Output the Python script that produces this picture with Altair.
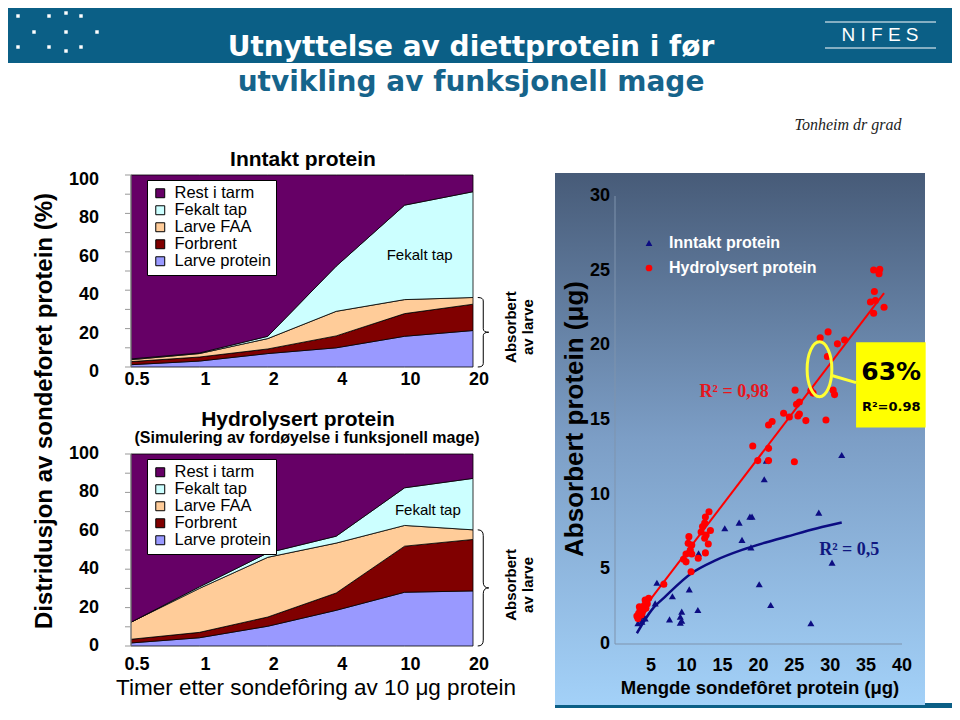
import altair as alt
import pandas as pd

W, H = 944, 700
FONT = "Liberation Sans, Arial, sans-serif"
TITLE_FONT = "DejaVu Sans, Liberation Sans"
SERIF = "Liberation Serif, Times New Roman, serif"
TEAL = "#0b5f86"

# ---------------- data ----------------
time_labels = ["0.5", "1", "2", "4", "10", "20"]
stack_series = ["Larve protein", "Forbrent", "Larve FAA", "Fekalt tap", "Rest i tarm"]  # bottom -> top
legend_order = ["Rest i tarm", "Fekalt tap", "Larve FAA", "Forbrent", "Larve protein"]
area_colors = ["#660066", "#ccffff", "#ffcc99", "#800000", "#9999ff"]
area_y_ticks = [0, 20, 40, 60, 80, 100]
area_y_minor = [0, 10, 20, 30, 40, 50, 60, 70, 80, 90, 100]

# Inntakt protein (% of fed protein per compartment)
inntakt_larve_protein = [1.2, 3.1, 7.0, 10.0, 16.0, 19.0]
inntakt_forbrent = [1.6, 2.1, 2.4, 6.2, 11.8, 13.7]
inntakt_larve_faa = [1.0, 1.8, 5.4, 12.8, 7.3, 3.5]
inntakt_fekalt_tap = [0.4, 0.3, 1.2, 23.5, 49.2, 55.1]
inntakt_rest_i_tarm = [95.8, 92.7, 84.0, 47.5, 15.7, 8.7]

# Hydrolysert protein
hydro_larve_protein = [1.6, 4.3, 10.3, 18.6, 28.0, 28.7]
hydro_forbrent = [1.9, 2.8, 4.8, 9.0, 24.0, 26.8]
hydro_larve_faa = [8.9, 22.9, 31.1, 26.0, 10.8, 5.0]
hydro_fekalt_tap = [0.0, 0.8, 2.3, 3.6, 19.6, 26.8]
hydro_rest_i_tarm = [87.6, 69.2, 51.5, 42.8, 17.6, 12.7]

absorbed_top = [36.2, 60.5]  # top of "Larve FAA" at 20 h (inntakt, hydrolysert)

# Scatter: Inntakt protein (triangles)
inntakt_x = [19.1, 18.8, 17.3, 15.3, 17.7, 18.95, 11.65, 20.1, 5.84, 6.7, 10.35, 8.0, 5.6,
             11.55, 9.3, 9.1, 9.3, 7.6, 9.1, 3.97, 3.5, 3.2, 4.2, 3.75, 31.6, 20.8, 21.1,
             28.4, 30.25, 21.7, 27.3]
inntakt_y = [8.53, 8.53, 8.13, 7.75, 6.97, 6.47, 6.07, 4.0, 4.1, 4.06, 3.66, 3.2, 2.72,
             2.28, 2.17, 1.83, 1.56, 1.65, 1.43, 1.83, 1.65, 1.39, 1.72, 1.49, 12.66, 11.03, 12.28,
             8.8, 5.45, 2.61, 1.39]
# Scatter: Hydrolysert protein (circles)
hydro_x = [4.7, 4.4, 4.1, 3.75, 3.5, 3.3, 3.05, 3.97, 3.65, 4.2, 3.2, 4.5, 3.8, 4.3, 3.4,
           6.8, 9.55, 9.9, 9.9, 10.7, 10.5, 10.3, 10.2, 10.7, 10.6, 11.6, 12.6, 12.0, 12.2,
           12.5, 12.6, 13.1, 13.3, 12.7, 12.5, 13.0,
           19.2, 19.9, 21.4, 21.4, 21.4, 21.9, 25.0, 23.5, 24.3, 25.5, 25.7, 26.6, 29.4,
           25.1, 25.7, 25.3, 27.3, 27.6, 30.4, 30.6, 29.6, 29.7, 28.6, 31.0, 32.0,
           36.05, 36.9, 36.8, 36.15, 35.6, 36.3, 36.05, 37.5]
hydro_y = [3.06, 2.83, 2.6, 2.45, 2.28, 2.05, 1.88, 2.28, 1.94, 2.95, 1.7, 2.7, 2.1, 2.4, 2.5,
           4.0, 5.67, 5.5, 6.03, 6.03, 6.3, 7.19, 6.74, 6.63, 4.84, 5.74, 6.1, 7.5, 7.86,
           8.1, 8.5, 8.86, 7.6, 7.3, 7.08, 6.7,
           13.26, 12.28, 12.28, 13.1, 14.67, 14.9, 12.2, 15.45, 15.2, 15.27, 15.4, 14.96, 15.0,
           17.0, 16.2, 16.06, 16.97, 16.8, 17.0, 16.7, 19.25, 20.9, 20.5, 20.1, 20.36,
           25.05, 25.1, 24.8, 23.6, 22.9, 23.0, 22.15, 22.55]
# trend lines as drawn on the slide
red_line_x = [2.9, 37.5]
red_line_y = [1.7, 23.5]
blue_curve_x = [3.05, 5.15, 7.0, 10.7, 14.0, 17.7, 21.0, 24.0, 28.2, 31.6]
blue_curve_y = [0.72, 2.3, 3.17, 4.75, 5.6, 6.3, 6.8, 7.2, 7.75, 8.13]

scatter_groups = ["Inntakt protein", "Hydrolysert protein"]
scatter_x_ticks = [5, 10, 15, 20, 25, 30, 35, 40]
scatter_y_ticks = [0, 5, 10, 15, 20, 25, 30]

one = pd.DataFrame({"k": [0]})


def stack_df(cols):
    rows = []
    for o, (name, vals) in enumerate(zip(stack_series, cols)):
        for i, v in enumerate(vals):
            rows.append({"t": i, "s": name, "v": v, "o": o})
    return pd.DataFrame(rows)


inntakt_df = stack_df([inntakt_larve_protein, inntakt_forbrent, inntakt_larve_faa,
                       inntakt_fekalt_tap, inntakt_rest_i_tarm])
hydro_df = stack_df([hydro_larve_protein, hydro_forbrent, hydro_larve_faa,
                     hydro_fekalt_tap, hydro_rest_i_tarm])


def brace_path(w):
    return f"M{-w},-1Q0,-1,0,-0.9L0,-0.1Q0,0,{w},0Q0,0,0,0.1L0,0.9Q0,1,{-w},1"


def text_at(txt, x, y, **kw):
    kw.setdefault("align", "center")
    kw.setdefault("baseline", "middle")
    return alt.Chart(pd.DataFrame({"txt": [txt]})).mark_text(**kw) \
        .encode(x=alt.value(x), y=alt.value(y), text="txt:N")


def area_panel(df, y0, y1, legend_y, x_label_y, fekalt_xy, absorbed, absorb_text_y, y_label_dy):
    xs = alt.Scale(domain=[0, 5], range=[123, 465], nice=False, zero=False)
    ys = alt.Scale(domain=[0, 100], range=[y0, y1], nice=False)
    X = lambda f: alt.X(f, scale=xs, axis=None)
    Y = lambda f: alt.Y(f, scale=ys, axis=None)

    area = alt.Chart(df).mark_area(stroke="black", strokeWidth=0.8, opacity=1).encode(
        x=X("t:Q"),
        y=alt.Y("v:Q", stack="zero", scale=ys, axis=None),
        color=alt.Color("s:N", scale=alt.Scale(domain=legend_order, range=area_colors),
                        legend=alt.Legend(orient="none", legendX=139, legendY=legend_y, title=None,
                                          fillColor="white", strokeColor="black", padding=5,
                                          labelFont=FONT, labelFontSize=16.5, labelColor="black",
                                          symbolType="square", symbolSize=80,
                                          symbolStrokeColor="black", symbolStrokeWidth=1,
                                          rowPadding=-2, labelOffset=6)),
        order=alt.Order("o:Q"),
    )
    # y axis: line, ticks every 10 %, labels every 20 %
    y_line = alt.Chart(one).mark_rule(color="#999999", strokeWidth=1).encode(
        x=alt.value(123), y=alt.datum(0, scale=ys, axis=None), y2=alt.datum(100))
    y_tick = alt.Chart(pd.DataFrame({"v": area_y_minor})).mark_rule(color="#999999", strokeWidth=1).encode(
        x=alt.value(117), x2=alt.value(123), y=Y("v:Q"))
    y_lab = alt.Chart(pd.DataFrame({"v": area_y_ticks})).mark_text(
        font=FONT, fontSize=18, fontWeight="bold", color="black", align="right", baseline="middle",
        dy=y_label_dy).encode(x=alt.value(91), y=Y("v:Q"), text="v:N")
    x_lab = alt.Chart(pd.DataFrame({"t": list(range(len(time_labels))), "lab": time_labels})).mark_text(
        font=FONT, fontSize=18, fontWeight="bold", color="black", align="center", baseline="middle",
        dx=6).encode(x=X("t:Q"), y=alt.value(x_label_y), text="lab:N")

    fek = alt.Chart(pd.DataFrame({"x": [fekalt_xy[0]], "y": [fekalt_xy[1]], "txt": ["Fekalt tap"]})) \
        .mark_text(font=FONT, fontSize=15, color="black").encode(x=X("x:Q"), y=Y("y:Q"), text="txt:N")
    absorb = alt.Chart(pd.DataFrame({"x": [5.55], "y": [absorb_text_y], "txt": ["Absorbert\nav larve"]})) \
        .mark_text(font=FONT, fontSize=15, fontWeight="bold", color="black", angle=270,
                   lineBreak="\n", lineHeight=17, align="center", baseline="middle").encode(
        x=X("x:Q"), y=Y("y:Q"), text="txt:N")
    hpx = absorbed * (y0 - y1) / 100.0
    w = 5.5 / (hpx / 2)
    brace = alt.Chart(pd.DataFrame({"x": [5.15], "y": [absorbed / 2]})).mark_point(
        shape=brace_path(round(w, 3)), size=hpx * hpx, filled=False, color="black",
        strokeWidth=1, opacity=1).encode(x=X("x:Q"), y=Y("y:Q"))
    return alt.layer(area, y_line, y_tick, y_lab, x_lab, fek, absorb, brace)


top_panel = area_panel(inntakt_df, 359, 167, 172, 372, (4.22, 58.3), absorbed_top[0], 20.8, 5)
bottom_panel = area_panel(hydro_df, 638, 446, 451, 657, (4.34, 70.8), absorbed_top[1], 31.8, 0)

# ---------------- scatter ----------------
sx = alt.Scale(domain=[0, 40], range=[607, 894], nice=False, zero=False)
sy = alt.Scale(domain=[0, 30], range=[636, 188], nice=False)
SX = lambda f: alt.X(f, scale=sx, axis=None)
SY = lambda f: alt.Y(f, scale=sy, axis=None)

scatter_df = pd.DataFrame(
    {"x": inntakt_x + hydro_x, "y": inntakt_y + hydro_y,
     "g": [scatter_groups[0]] * len(inntakt_x) + [scatter_groups[1]] * len(hydro_x)})

leg = alt.Legend(orient="none", legendX=633, legendY=227, title=None, labelColor="white",
                 labelFont=FONT, labelFontSize=16, labelFontWeight="bold", symbolSize=45,
                 rowPadding=9, labelOffset=12, padding=0, symbolStrokeWidth=0)

bg = alt.Chart(one).mark_rect(
    color=alt.LinearGradient(gradient="linear", x1=0, x2=0, y1=0, y2=1,
                             stops=[alt.GradientStop(color="#475b78", offset=0),
                                    alt.GradientStop(color="#7c9ec6", offset=0.5),
                                    alt.GradientStop(color="#a3d1f8", offset=1)])
).encode(x=alt.value(547), x2=alt.value(917), y=alt.value(165), y2=alt.value(697))

s_xline = alt.Chart(one).mark_rule(color="#7f93ad", strokeWidth=1).encode(
    x=alt.datum(0, scale=sx, axis=None), x2=alt.datum(40), y=alt.value(636))
s_yline = alt.Chart(one).mark_rule(color="#7f93ad", strokeWidth=1).encode(
    y=alt.datum(0, scale=sy, axis=None), y2=alt.datum(30), x=alt.value(607))
s_xlab = alt.Chart(pd.DataFrame({"v": scatter_x_ticks})).mark_text(
    font=FONT, fontSize=18, fontWeight="bold", color="black", align="center", baseline="middle").encode(
    x=SX("v:Q"), y=alt.value(658), text="v:N")
s_ylab = alt.Chart(pd.DataFrame({"v": scatter_y_ticks})).mark_text(
    font=FONT, fontSize=18, fontWeight="bold", color="black", align="right", baseline="middle").encode(
    y=SY("v:Q"), x=alt.value(602), text="v:N")

points = alt.Chart(scatter_df).mark_point(filled=True, size=50, opacity=1).encode(
    x=SX("x:Q"), y=SY("y:Q"),
    color=alt.Color("g:N", scale=alt.Scale(domain=scatter_groups, range=["#0c0c82", "#ff0000"]),
                    legend=leg),
    shape=alt.Shape("g:N", scale=alt.Scale(domain=scatter_groups, range=["triangle-up", "circle"]),
                    legend=leg),
)

red_line = alt.Chart(pd.DataFrame({"x": red_line_x, "y": red_line_y})).mark_line(
    color="#ff0000", strokeWidth=2).encode(x=SX("x:Q"), y=SY("y:Q"))
blue_line = alt.Chart(pd.DataFrame({"x": blue_curve_x, "y": blue_curve_y})).mark_line(
    color="#0c0c82", strokeWidth=2.5, interpolate="monotone").encode(x=SX("x:Q"), y=SY("y:Q"))

r2_df = pd.DataFrame({"x": [16.6, 32.65], "y": [16.9, 6.3], "txt": ["R² = 0,98", "R² = 0,5"],
                      "c": ["#e8161c", "#101880"]})
r2_text = alt.Chart(r2_df).mark_text(font=SERIF, fontSize=18, fontWeight="bold").encode(
    x=SX("x:Q"), y=SY("y:Q"), text="txt:N", color=alt.Color("c:N", scale=None))

ybox = alt.Chart(one).mark_rect(color="#ffff00").encode(
    x=alt.datum(33.6, scale=sx, axis=None), x2=alt.datum(43.3),
    y=alt.datum(20.2, scale=sy, axis=None), y2=alt.datum(14.5))
ytxt = alt.Chart(pd.DataFrame({"x": [38.5, 38.5], "y": [18.2, 15.9], "txt": ["63%", "R²=0.98"],
                               "s": [25, 13]})).mark_text(
    font="DejaVu Sans, Verdana, sans-serif", fontWeight="bold", color="black").encode(
    x=SX("x:Q"), y=SY("y:Q"), text="txt:N", size=alt.Size("s:Q", scale=None, legend=None))
ellipse = alt.Chart(pd.DataFrame({"x": [28.5], "y": [18.4]})).mark_point(
    shape="M0,-1A0.45,1,0,1,1,0,1A0.45,1,0,1,1,0,-1Z", size=3025, filled=False,
    color="#ffff33", strokeWidth=3, opacity=1).encode(x=SX("x:Q"), y=SY("y:Q"))
connector = alt.Chart(one).mark_rule(color="#ffff33", strokeWidth=3).encode(
    x=alt.datum(30.1, scale=sx, axis=None), x2=alt.datum(33.6),
    y=alt.datum(18.0, scale=sy, axis=None), y2=alt.datum(17.5))

scatter_panel = alt.layer(bg, s_xline, s_yline, s_xlab, s_ylab, blue_line, red_line, points,
                          r2_text, ybox, ytxt, ellipse, connector)

# ---------------- header / decorations ----------------
banner = alt.Chart(one).mark_rect(color=TEAL).encode(
    x=alt.value(0), x2=alt.value(W), y=alt.value(0), y2=alt.value(55))
bottom_bar = alt.Chart(one).mark_rect(color=TEAL).encode(
    x=alt.value(547), x2=alt.value(W), y=alt.value(695), y2=alt.value(H))
logo_dot_px_x = [10, 41, 58, 73, 26, 58, 89, 10, 41, 58, 73]
logo_dot_px_y = [8, 8, 5, 8, 24, 24, 24, 39, 39, 43, 39]
dots = alt.Chart(pd.DataFrame({"px": logo_dot_px_x, "py": logo_dot_px_y})).mark_square(
    size=12, color="white", opacity=1).encode(
    x=alt.X("px:Q", scale=None, axis=None), y=alt.Y("py:Q", scale=None, axis=None))
nifes_lines = alt.Chart(pd.DataFrame({"py": [14, 40]})).mark_rule(color="white", strokeWidth=1.2).encode(
    x=alt.value(817), x2=alt.value(928), y=alt.Y("py:Q", scale=None, axis=None))

texts = [
    text_at("Utnyttelse av diettprotein i før", 463, 40, font=TITLE_FONT, fontSize=28,
            fontWeight="bold", color="white"),
    text_at("utvikling av funksjonell mage", 463, 75, font=TITLE_FONT, fontSize=28,
            fontWeight="bold", color="#16648b"),
    text_at("N   I   F   E   S", 872, 27, font=FONT, fontSize=19, color="white"),
    text_at("Tonheim dr grad", 840, 117, font=SERIF, fontSize=16, fontStyle="italic", color="#222222"),
    text_at("Inntakt protein", 295, 152, font=FONT, fontSize=21, fontWeight="bold", color="black"),
    text_at("Hydrolysert protein", 290, 412, font=FONT, fontSize=21, fontWeight="bold", color="black"),
    text_at("(Simulering av fordøyelse i funksjonell mage)", 299, 430, font=FONT, fontSize=16,
            fontWeight="bold", color="black"),
    text_at("Distridusjon av sondeforet protein (%)", 37, 403, font=FONT, fontSize=24,
            fontWeight="bold", color="black", angle=270),
    text_at("Timer etter sondefôring av 10 μg protein", 308, 680, font=FONT, fontSize=22.5,
            color="black"),
    text_at("Absorbert protein (μg)", 567, 411, font=FONT, fontSize=26, fontWeight="bold",
            color="black", angle=270),
    text_at("Mengde sondefôret protein (μg)", 752, 680, font=FONT, fontSize=18.5,
            fontWeight="bold", color="black"),
]

chart = alt.layer(
    banner, dots, nifes_lines, bottom_bar, top_panel, bottom_panel, scatter_panel, *texts
).resolve_scale(
    x="independent", y="independent", color="independent", shape="independent", size="independent"
).resolve_legend(
    color="independent", shape="independent"
).properties(
    width=W, height=H, autosize=alt.AutoSizeParams(type="none"), padding=0, background="white"
).configure_view(stroke=None)

chart.save("out.html", embed_options={"renderer": "svg", "actions": False})
